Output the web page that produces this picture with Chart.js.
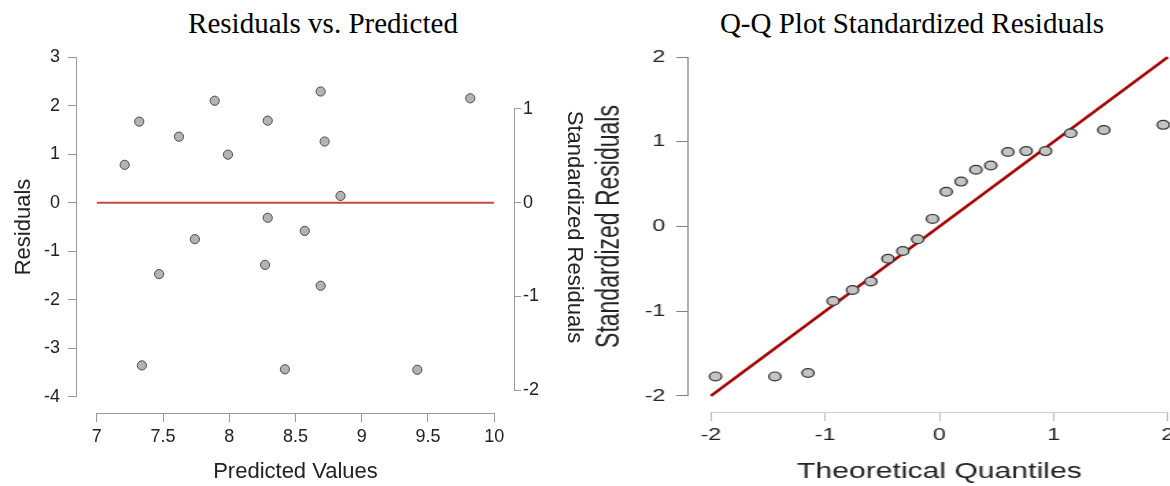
<!DOCTYPE html>
<html>
<head>
<meta charset="utf-8">
<script src="https://cdn.jsdelivr.net/npm/chart.js@4"></script>
<style>
body{margin:0;width:1170px;height:486px;overflow:hidden;background:#fff;position:relative;}
.title{position:absolute;top:9px;font-family:"Liberation Serif","Times New Roman",serif;font-size:29px;line-height:29px;color:#000;white-space:nowrap;transform:translateX(-50%);}
#leftBox{position:absolute;left:0;top:0;}
#rightBox{position:absolute;left:590px;top:0;transform:scaleX(1.37);transform-origin:0 0;}
</style>
</head>
<body>
<div class="title" style="left:323px">Residuals vs. Predicted</div>
<div class="title" style="left:912px">Q-Q Plot Standardized Residuals</div>
<div id="leftBox"><canvas id="residChart" width="590" height="486"></canvas></div>
<div id="rightBox"><canvas id="qqChart" width="445" height="486"></canvas></div>
<script>
const predicted = [7.21, 7.32, 7.34, 7.47, 7.62, 7.74, 7.89, 7.99, 8.27, 8.29, 8.29, 8.42, 8.57, 8.69, 8.69, 8.72, 8.84, 9.42, 9.82];
const residuals = [0.78, 1.67, -3.35, -1.47, 1.36, -0.75, 2.10, 0.99, -1.28, 1.69, -0.31, -3.43, -0.58, 2.29, -1.71, 1.26, 0.14, -3.44, 2.15];
const predTicks = [7, 7.5, 8, 8.5, 9, 9.5, 10];
const residTicks = [-4, -3, -2, -1, 0, 1, 2, 3];
const stdTicks = [-2, -1, 0, 1];
const residSd = 1.93;

const theoretical = [-1.96, -1.44, -1.15, -0.93, -0.76, -0.60, -0.45, -0.32, -0.19, -0.06, 0.06, 0.19, 0.32, 0.45, 0.60, 0.76, 0.93, 1.15, 1.44, 1.96];
const sampleQ = [-1.77, -1.77, -1.73, -0.88, -0.75, -0.65, -0.38, -0.29, -0.15, 0.09, 0.41, 0.53, 0.67, 0.72, 0.88, 0.89, 0.89, 1.10, 1.14, 1.20];
const qqTicks = [-2, -1, 0, 1, 2];

const sans = "'Liberation Sans', Arial, sans-serif";

// axis line only between first and last tick, like R's axis()
const axisLines = {
    id: "axisLines",
    beforeDatasetsDraw(chart, args, opts){
        let ctx = chart.ctx;
        (opts.axes || []).forEach(a => {
            let scale = chart.scales[a.id];
            let first = scale.getPixelForValue(scale.ticks[0].value);
            let last = scale.getPixelForValue(scale.ticks[scale.ticks.length - 1].value);
            ctx.save();
            ctx.strokeStyle = a.color;
            ctx.lineWidth = 1;
            ctx.beginPath();
            if(scale.isHorizontal()){
                let y = Math.round(scale.top) + 0.5;
                ctx.moveTo(first, y);
                ctx.lineTo(last, y);
            }
            else{
                let x = scale.position === "left"
                    ? Math.round(scale.right) - 0.5
                    : Math.round(scale.left) + 0.5;
                ctx.moveTo(x, first);
                ctx.lineTo(x, last);
            }
            ctx.stroke();
            ctx.restore();
        });
    }
};

function axis(opts){
    return {
        type: "linear",
        position: opts.position,
        min: opts.min,
        max: opts.max,
        afterBuildTicks: s => { s.ticks = opts.ticks.map(v => ({value: v})); },
        afterFit: s => {
            if(s.isHorizontal()) s.height = opts.size;
            else s.width = opts.size;
        },
        border: {display: false},
        grid: {drawOnChartArea: false, color: opts.color, tickLength: opts.tickLength},
        ticks: {
            padding: opts.padding,
            color: "#222",
            font: {family: sans, size: opts.tickSize},
            maxRotation: 0,
            autoSkip: false,
            callback: v => String(v)
        },
        title: {
            display: true,
            text: opts.title,
            color: "#222",
            font: {family: sans, size: opts.titleSize},
            padding: opts.titlePad
        }
    };
}

let residPoints = predicted.map((p, i) => ({x: p, y: residuals[i]}));

new Chart(document.getElementById("residChart"), {
    type: "scatter",
    data: {
        datasets: [{
            data: residPoints,
            pointRadius: 4.6,
            backgroundColor: "#b3b3b3",
            borderColor: "#4a4a4a",
            borderWidth: 1
        },{
            data: [{x: predTicks[0], y: 0}, {x: predTicks[predTicks.length - 1], y: 0}],
            showLine: true,
            pointRadius: 0,
            borderColor: "#c24a46",
            borderWidth: 2
        }]
    },
    options: {
        responsive: false,
        animation: false,
        layout: {padding: {top: 41, left: 0, right: 0, bottom: 0}},
        plugins: {
            legend: {display: false},
            tooltip: {enabled: false},
            axisLines: {axes: [{id: "x", color: "#999"}, {id: "y", color: "#999"}, {id: "y2", color: "#999"}]}
        },
        scales: {
            x: axis({position: "bottom", min: 6.85, max: 10.15, ticks: predTicks, size: 73, color: "#999",
                tickLength: 9, padding: 4, tickSize: 18, title: "Predicted Values", titleSize: 22,
                titlePad: {top: 0, bottom: 1}}),
            y: axis({position: "left", min: -4.33, max: 3.33, ticks: residTicks, size: 77, color: "#999",
                tickLength: 9, padding: 8, tickSize: 18, title: "Residuals", titleSize: 22,
                titlePad: {top: 11, bottom: 0}}),
            y2: axis({position: "right", min: -4.33 / residSd, max: 3.33 / residSd, ticks: stdTicks, size: 76, color: "#999",
                tickLength: 7, padding: 2, tickSize: 18, title: "Standardized Residuals", titleSize: 22,
                titlePad: {top: 3, bottom: 0}})
        }
    },
    plugins: [axisLines]
});

let qqPoints = theoretical.map((t, i) => ({x: t, y: sampleQ[i]}));

new Chart(document.getElementById("qqChart"), {
    type: "scatter",
    data: {
        datasets: [{
            data: qqPoints,
            pointRadius: 4.4,
            backgroundColor: "#c4c4c4",
            borderColor: "#333",
            borderWidth: 1.2
        },{
            data: [{x: qqTicks[0], y: qqTicks[0]}, {x: qqTicks[qqTicks.length - 1], y: qqTicks[qqTicks.length - 1]}],
            showLine: true,
            pointRadius: 0,
            borderColor: "#a50000",
            borderWidth: 2.5
        }]
    },
    options: {
        responsive: false,
        animation: false,
        layout: {padding: {top: 41, left: 0, right: 7, bottom: 0}},
        plugins: {
            legend: {display: false},
            tooltip: {enabled: false},
            axisLines: {axes: [{id: "x", color: "#cfcfcf"}, {id: "y", color: "#808080"}]}
        },
        scales: {
            x: axis({position: "bottom", min: -2.195, max: 2.195, ticks: qqTicks, size: 74, color: "#bdbdbd",
                tickLength: 9, padding: 4, tickSize: 17, title: "Theoretical Quantiles", titleSize: 22,
                titlePad: {top: 0, bottom: 1}}),
            y: axis({position: "left", min: -2.19, max: 2.19, ticks: qqTicks, size: 72, color: "#808080",
                tickLength: 9, padding: 8, tickSize: 17, title: "Standardized Residuals", titleSize: 23,
                titlePad: {top: 1, bottom: 0}})
        }
    },
    plugins: [axisLines]
});
</script>
</body>
</html>
